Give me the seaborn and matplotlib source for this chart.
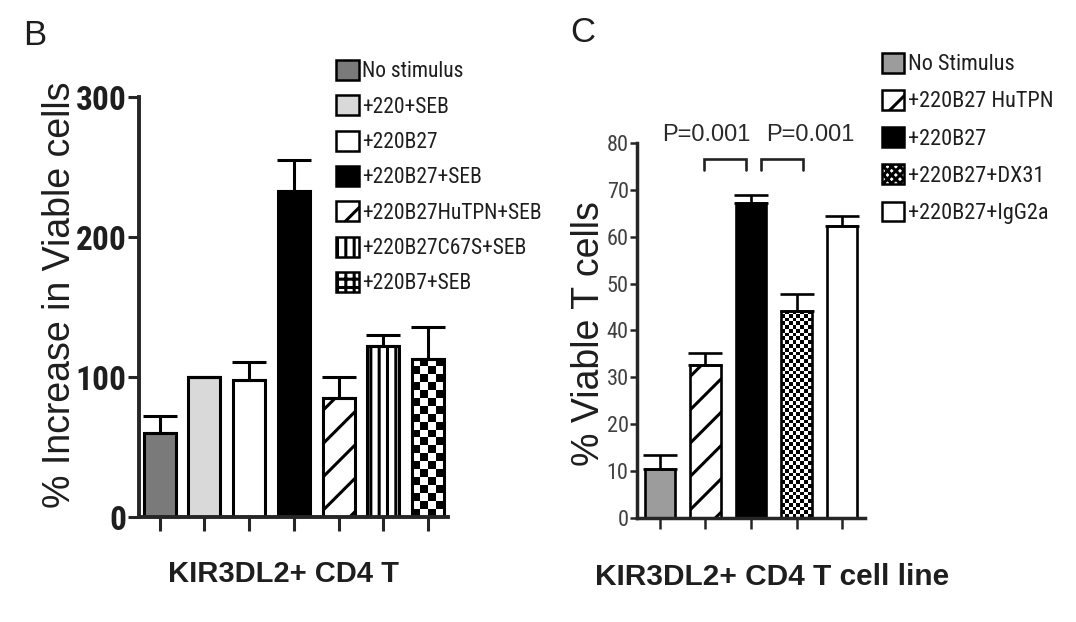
import matplotlib
matplotlib.use('Agg')
import matplotlib.pyplot as plt
import seaborn as sns
import pandas as pd
import numpy as np
from matplotlib.patches import Patch
from matplotlib import font_manager

# --- data ---
b_groups = ['No stimulus', '+220+SEB', '+220B27', '+220B27+SEB',
            '+220B27HuTPN+SEB', '+220B27C67S+SEB', '+220B7+SEB']
b_values = [60, 100, 98, 233, 85, 122, 113]
b_errors = [12, 0, 13, 22, 15, 8, 23]
b_yticks = [0, 100, 200, 300]

c_groups = ['No Stimulus', '+220B27 HuTPN', '+220B27', '+220B27+DX31', '+220B27+IgG2a']
c_values = [10.5, 32.6, 67.1, 44.2, 62.3]
c_errors = [3.0, 2.6, 1.7, 3.6, 2.1]
c_yticks = [0, 10, 20, 30, 40, 50, 60, 70, 80]
c_pvalues = ['P=0.001', 'P=0.001']

# --- styles ---
b_colors = ['#7a7a7a', '#d9d9d9', 'white', 'black', 'white', 'white', 'white']
b_hatches = [None, None, None, None, '/', '||', 'checker']
c_colors = ['#9c9c9c', 'white', 'black', 'white', 'white']
c_hatches = [None, '/', None, 'fine', None]

sns.set_style('ticks')
installed = {f.name for f in font_manager.fontManager.ttflist}


def pick(cands):
    for c in cands:
        if c in installed:
            return c
    return 'DejaVu Sans'


narrow = pick(['Liberation Sans Narrow', 'Arial Narrow', 'Roboto Condensed', 'Archivo Narrow',
               'PT Sans Narrow', 'Open Sans Condensed', 'Fira Sans Condensed',
               'IBM Plex Sans Condensed', 'Encode Sans Condensed', 'Asap Condensed',
               'Barlow Semi Condensed', 'Sofia Sans Condensed', 'Liberation Sans'])
regular = pick(['Liberation Sans', 'Arimo', 'Arial', 'Helvetica'])
plt.rcParams['font.family'] = [regular, 'DejaVu Sans']
plt.rcParams['hatch.linewidth'] = 2.2
TXT = '#1e1e1e'

fig = plt.figure(figsize=(10.76, 6.22), dpi=100)
ax_b = fig.add_axes([0.1292, 0.1688, 0.2872, 0.6752])
ax_c = fig.add_axes([0.5920, 0.1672, 0.2119, 0.6029])


def draw_panel(ax, groups, values, errors, colors, hatches, width, capsize, lw):
    df = pd.DataFrame({'group': groups, 'value': values})
    sns.barplot(data=df, x='group', y='value', hue='group', palette=colors,
                width=width, saturation=1, edgecolor='black', linewidth=lw,
                legend=False, ax=ax)
    for bar, h in zip(ax.patches, hatches):
        if h in ('/', '||'):
            bar.set_hatch(h)
    n = len(values)
    ax.errorbar(range(n), values, yerr=[[0] * n, errors], fmt='none',
                ecolor='black', elinewidth=lw, capsize=capsize, capthick=lw)
    sns.despine(ax=ax)
    for s in ('left', 'bottom'):
        ax.spines[s].set_linewidth(lw + 0.6)
    ax.set_xticks(range(n))
    ax.set_xticklabels([])


def checker(ax, bar, n_across):
    # black/white checkerboard clipped to a bar
    x0, w, h = bar.get_x(), bar.get_width(), bar.get_height()
    (px0, py0), (px1, py1) = ax.transData.transform([(x0, 0), (x0 + w, h)])
    rows = max(1, int(round((py1 - py0) / ((px1 - px0) / n_across))))
    board = np.add.outer(np.arange(rows), np.arange(n_across)) % 2
    im = ax.imshow(board, cmap='gray_r', extent=(x0, x0 + w, 0, h), aspect='auto',
                   interpolation='nearest', origin='upper', zorder=0.9)
    im.set_clip_path(bar)
    bar.set_facecolor('none')


def make_legend(groups, colors, hatches, anchor, spacing, hsize, size):
    legend_hatch = {'checker': '++', 'fine': 'xxxx', '||': '||', '/': '/'}
    handles = [Patch(facecolor=c, edgecolor='black', hatch=legend_hatch.get(h), linewidth=1.8)
               for c, h in zip(colors, hatches)]
    leg = fig.legend(handles, groups, loc='upper left', bbox_to_anchor=anchor,
                     frameon=False, borderpad=0, borderaxespad=0,
                     handlelength=hsize, handleheight=hsize, handletextpad=0.15,
                     labelspacing=spacing, prop={'family': narrow, 'size': size})
    for t in leg.get_texts():
        t.set_color(TXT)
    return leg


# --- panel B ---
draw_panel(ax_b, b_groups, b_values, b_errors, b_colors, b_hatches, 0.715, 12, 2.2)
ax_b.set_xlim(-0.458, 6.447)
ax_b.set_ylim(0, 300)
ax_b.set_yticks(b_yticks)
ax_b.set_yticklabels([str(v) for v in b_yticks], family=narrow, weight='bold',
                     size=24, color=TXT)
ax_b.tick_params(axis='y', length=8, width=2.2, pad=1)
ax_b.tick_params(axis='x', length=10, width=2.2)
ax_b.set_xlabel('KIR3DL2+ CD4 T', fontsize=21, weight='bold', color=TXT, va='top')
ax_b.xaxis.set_label_coords(0.468, -0.102)
ax_b.set_ylabel('% Increase in Viable cells', fontsize=27, color=TXT)
ax_b.yaxis.set_label_coords(-0.197, 0.53)
for bar, h in zip(ax_b.patches, b_hatches):
    if h == 'checker':
        checker(ax_b, bar, 4)
ax_b.set_xlim(-0.458, 6.447)
ax_b.set_ylim(0, 300)
make_legend(b_groups, b_colors, b_hatches, (0.3123, 0.9035), 0.6, 1.06, 15.5)

# --- panel C ---
draw_panel(ax_c, c_groups, c_values, c_errors, c_colors, c_hatches, 0.66, 12, 1.9)
ax_c.set_xlim(-0.505, 4.505)
ax_c.set_ylim(0, 80)
ax_c.set_yticks(c_yticks)
ax_c.set_yticklabels([str(v) for v in c_yticks], family=narrow, size=16, color='#404040')
ax_c.tick_params(axis='y', length=5, width=1.8, pad=1)
ax_c.tick_params(axis='x', length=8, width=1.8)
ax_c.set_xlabel('KIR3DL2+ CD4 T cell line', fontsize=21.5, weight='bold', color=TXT, va='top')
ax_c.xaxis.set_label_coords(0.594, -0.12)
ax_c.set_ylabel('% Viable T cells', fontsize=27, color=TXT)
ax_c.yaxis.set_label_coords(-0.13, 0.493)
for bar, h in zip(ax_c.patches, c_hatches):
    if h == 'fine':
        checker(ax_c, bar, 8)
ax_c.set_xlim(-0.505, 4.505)
ax_c.set_ylim(0, 80)
make_legend(c_groups, c_colors, c_hatches, (0.8197, 0.9153), 0.66, 1.0, 16)

# significance brackets between neighbouring bars
for (i, j), label, lx in zip([(1, 2), (2, 3)], c_pvalues, [1.01, 3.30]):
    x0, x1 = (i - 0.03, j - 0.12) if i == 1 else (i + 0.22, j + 0.14)
    ax_c.plot([x0, x0, x1, x1], [74.2, 76.6, 76.6, 74.2], color='#222222', lw=1.9,
              clip_on=False, solid_joinstyle='miter')
    ax_c.text(lx, 81.7, label, ha='center', va='center', fontsize=17,
              color='#2a2a2a', clip_on=False)

# panel letters
fig.text(0.0325, 0.9437, 'B', fontsize=25, color=TXT, ha='center', va='center')
fig.text(0.5418, 0.947, 'C', fontsize=25, color=TXT, ha='center', va='center')

fig.savefig('out.png', dpi=100)
